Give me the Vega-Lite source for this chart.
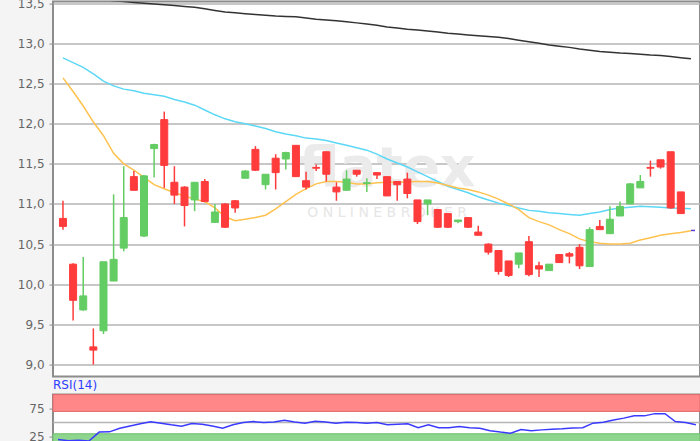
{
  "$schema": "https://vega.github.io/schema/vega-lite/v6.json",
  "background": "#f4f4f4",
  "padding": {"left": 0, "top": -4.4, "right": 0, "bottom": 0},
  "spacing": 0,
  "config": {
    "view": {"stroke": "#8c8c8c", "strokeWidth": 2, "fill": "#ffffff"},
    "axis": {"labelFont": "DejaVu Sans", "labelFontSize": 12, "labelColor": "#666666", "tickColor": "#8c8c8c", "tickSize": 4, "labelPadding": 5, "domain": false, "gridColor": "#b4b4b4", "gridWidth": 1.5, "minExtent": 52, "maxExtent": 52}
  },
  "datasets": {
    "candles": [
      {"i":0,"o":10.82,"h":11.04,"l":10.68,"c":10.72},
      {"i":1,"o":10.25,"h":10.26,"l":9.55,"c":9.80},
      {"i":2,"o":9.68,"h":10.34,"l":9.67,"c":9.855},
      {"i":3,"o":9.22,"h":9.45,"l":9.00,"c":9.18},
      {"i":4,"o":9.42,"h":10.28,"l":9.38,"c":10.28},
      {"i":5,"o":10.04,"h":11.12,"l":10.04,"c":10.31},
      {"i":6,"o":10.45,"h":11.47,"l":10.41,"c":10.83},
      {"i":7,"o":11.34,"h":11.41,"l":11.17,"c":11.17},
      {"i":8,"o":10.60,"h":11.36,"l":10.59,"c":11.35},
      {"i":9,"o":11.69,"h":11.75,"l":11.33,"c":11.74},
      {"i":10,"o":12.05,"h":12.15,"l":11.20,"c":11.48},
      {"i":11,"o":11.27,"h":11.47,"l":11.00,"c":11.11},
      {"i":12,"o":11.21,"h":11.22,"l":10.72,"c":10.98},
      {"i":13,"o":11.05,"h":11.27,"l":10.91,"c":11.27},
      {"i":14,"o":11.28,"h":11.31,"l":11.02,"c":11.03},
      {"i":15,"o":10.77,"h":11.00,"l":10.77,"c":10.90},
      {"i":16,"o":11.00,"h":11.01,"l":10.70,"c":10.71},
      {"i":17,"o":11.04,"h":11.05,"l":10.89,"c":10.95},
      {"i":18,"o":11.32,"h":11.42,"l":11.32,"c":11.41},
      {"i":19,"o":11.68,"h":11.72,"l":11.41,"c":11.42},
      {"i":20,"o":11.24,"h":11.37,"l":11.18,"c":11.37},
      {"i":21,"o":11.57,"h":11.62,"l":11.18,"c":11.39},
      {"i":22,"o":11.56,"h":11.65,"l":11.43,"c":11.64},
      {"i":23,"o":11.73,"h":11.73,"l":11.34,"c":11.34},
      {"i":24,"o":11.29,"h":11.40,"l":11.18,"c":11.21},
      {"i":25,"o":11.455,"h":11.49,"l":11.41,"c":11.445},
      {"i":26,"o":11.65,"h":11.65,"l":11.28,"c":11.37},
      {"i":27,"o":11.21,"h":11.27,"l":11.04,"c":11.15},
      {"i":28,"o":11.17,"h":11.42,"l":11.17,"c":11.31},
      {"i":29,"o":11.42,"h":11.42,"l":11.34,"c":11.37},
      {"i":30,"o":11.255,"h":11.32,"l":11.15,"c":11.265},
      {"i":31,"o":11.39,"h":11.39,"l":11.31,"c":11.36},
      {"i":32,"o":11.34,"h":11.34,"l":11.10,"c":11.10},
      {"i":33,"o":11.28,"h":11.28,"l":11.04,"c":11.24},
      {"i":34,"o":11.31,"h":11.39,"l":11.07,"c":11.13},
      {"i":35,"o":11.05,"h":11.05,"l":10.75,"c":10.78},
      {"i":36,"o":11.00,"h":11.05,"l":10.86,"c":11.05},
      {"i":37,"o":10.93,"h":10.93,"l":10.70,"c":10.71},
      {"i":38,"o":10.88,"h":10.88,"l":10.70,"c":10.71},
      {"i":39,"o":10.78,"h":10.80,"l":10.76,"c":10.80},
      {"i":40,"o":10.83,"h":10.83,"l":10.70,"c":10.71},
      {"i":41,"o":10.65,"h":10.73,"l":10.61,"c":10.61},
      {"i":42,"o":10.50,"h":10.51,"l":10.37,"c":10.40},
      {"i":43,"o":10.42,"h":10.42,"l":10.12,"c":10.16},
      {"i":44,"o":10.29,"h":10.29,"l":10.09,"c":10.11},
      {"i":45,"o":10.25,"h":10.39,"l":10.20,"c":10.39},
      {"i":46,"o":10.53,"h":10.60,"l":10.10,"c":10.12},
      {"i":47,"o":10.23,"h":10.28,"l":10.09,"c":10.19},
      {"i":48,"o":10.17,"h":10.25,"l":10.17,"c":10.25},
      {"i":49,"o":10.37,"h":10.37,"l":10.27,"c":10.27},
      {"i":50,"o":10.38,"h":10.40,"l":10.26,"c":10.35},
      {"i":51,"o":10.46,"h":10.50,"l":10.19,"c":10.23},
      {"i":52,"o":10.22,"h":10.71,"l":10.22,"c":10.68},
      {"i":53,"o":10.72,"h":10.80,"l":10.68,"c":10.68},
      {"i":54,"o":10.63,"h":10.97,"l":10.63,"c":10.81},
      {"i":55,"o":10.85,"h":11.03,"l":10.85,"c":10.97},
      {"i":56,"o":11.00,"h":11.26,"l":11.00,"c":11.25},
      {"i":57,"o":11.20,"h":11.36,"l":11.20,"c":11.28},
      {"i":58,"o":11.455,"h":11.54,"l":11.34,"c":11.445},
      {"i":59,"o":11.55,"h":11.55,"l":11.44,"c":11.46},
      {"i":60,"o":11.65,"h":11.65,"l":10.94,"c":10.95},
      {"i":61,"o":11.15,"h":11.15,"l":10.88,"c":10.88}
    ],
    "ma": [
      {"i":0,"a":12.57,"b":12.82,"k":13.60},
      {"i":1,"a":12.40,"b":12.76,"k":13.59},
      {"i":2,"a":12.22,"b":12.70,"k":13.57},
      {"i":3,"a":12.02,"b":12.62,"k":13.56},
      {"i":4,"a":11.85,"b":12.53,"k":13.55},
      {"i":5,"a":11.63,"b":12.47,"k":13.53},
      {"i":6,"a":11.50,"b":12.43,"k":13.52},
      {"i":7,"a":11.42,"b":12.41,"k":13.51},
      {"i":8,"a":11.33,"b":12.38,"k":13.50},
      {"i":9,"a":11.24,"b":12.36,"k":13.49},
      {"i":10,"a":11.19,"b":12.34,"k":13.48},
      {"i":11,"a":11.14,"b":12.30,"k":13.47},
      {"i":12,"a":11.10,"b":12.27,"k":13.46},
      {"i":13,"a":11.06,"b":12.23,"k":13.45},
      {"i":14,"a":11.03,"b":12.17,"k":13.43},
      {"i":15,"a":10.95,"b":12.11,"k":13.41},
      {"i":16,"a":10.84,"b":12.06,"k":13.39},
      {"i":17,"a":10.79,"b":12.025,"k":13.38},
      {"i":18,"a":10.81,"b":12.00,"k":13.37},
      {"i":19,"a":10.83,"b":11.97,"k":13.36},
      {"i":20,"a":10.86,"b":11.94,"k":13.35},
      {"i":21,"a":10.94,"b":11.90,"k":13.34},
      {"i":22,"a":11.03,"b":11.87,"k":13.335},
      {"i":23,"a":11.12,"b":11.85,"k":13.33},
      {"i":24,"a":11.19,"b":11.82,"k":13.315},
      {"i":25,"a":11.25,"b":11.81,"k":13.30},
      {"i":26,"a":11.28,"b":11.79,"k":13.29},
      {"i":27,"a":11.28,"b":11.76,"k":13.28},
      {"i":28,"a":11.27,"b":11.73,"k":13.27},
      {"i":29,"a":11.25,"b":11.70,"k":13.255},
      {"i":30,"a":11.25,"b":11.67,"k":13.24},
      {"i":31,"a":11.265,"b":11.62,"k":13.225},
      {"i":32,"a":11.27,"b":11.56,"k":13.205},
      {"i":33,"a":11.27,"b":11.51,"k":13.19},
      {"i":34,"a":11.275,"b":11.46,"k":13.175},
      {"i":35,"a":11.28,"b":11.40,"k":13.165},
      {"i":36,"a":11.28,"b":11.34,"k":13.155},
      {"i":37,"a":11.26,"b":11.28,"k":13.14},
      {"i":38,"a":11.23,"b":11.22,"k":13.125},
      {"i":39,"a":11.20,"b":11.18,"k":13.115},
      {"i":40,"a":11.18,"b":11.14,"k":13.105},
      {"i":41,"a":11.15,"b":11.09,"k":13.095},
      {"i":42,"a":11.11,"b":11.05,"k":13.085},
      {"i":43,"a":11.06,"b":11.01,"k":13.075},
      {"i":44,"a":11.00,"b":10.98,"k":13.06},
      {"i":45,"a":10.93,"b":10.95,"k":13.04},
      {"i":46,"a":10.83,"b":10.92,"k":13.02},
      {"i":47,"a":10.78,"b":10.91,"k":13.00},
      {"i":48,"a":10.74,"b":10.89,"k":12.98},
      {"i":49,"a":10.68,"b":10.88,"k":12.965},
      {"i":50,"a":10.63,"b":10.87,"k":12.95},
      {"i":51,"a":10.565,"b":10.86,"k":12.93},
      {"i":52,"a":10.53,"b":10.88,"k":12.915},
      {"i":53,"a":10.51,"b":10.90,"k":12.90},
      {"i":54,"a":10.50,"b":10.93,"k":12.89},
      {"i":55,"a":10.50,"b":10.95,"k":12.88},
      {"i":56,"a":10.51,"b":10.96,"k":12.875},
      {"i":57,"a":10.55,"b":10.97,"k":12.865},
      {"i":58,"a":10.58,"b":10.965,"k":12.855},
      {"i":59,"a":10.61,"b":10.96,"k":12.848},
      {"i":60,"a":10.63,"b":10.95,"k":12.835},
      {"i":61,"a":10.645,"b":10.945,"k":12.82},
      {"i":62,"a":10.665,"b":10.94,"k":12.807}
    ],
    "rsi": [
      {"i":0,"r":20},{"i":1,"r":17.5},{"i":2,"r":18.5},{"i":3,"r":17},{"i":4,"r":33},
      {"i":5,"r":33.5},{"i":6,"r":40},{"i":7,"r":44},{"i":8,"r":48},{"i":9,"r":51.5},
      {"i":10,"r":49},{"i":11,"r":46},{"i":12,"r":43.5},{"i":13,"r":48.5},{"i":14,"r":47},
      {"i":15,"r":44},{"i":16,"r":40},{"i":17,"r":46},{"i":18,"r":50},{"i":19,"r":51.8},
      {"i":20,"r":50},{"i":21,"r":51},{"i":22,"r":54.3},{"i":23,"r":51},{"i":24,"r":49},
      {"i":25,"r":52.5},{"i":26,"r":51},{"i":27,"r":49},{"i":28,"r":50.5},{"i":29,"r":50},
      {"i":30,"r":49},{"i":31,"r":50},{"i":32,"r":46},{"i":33,"r":47},{"i":34,"r":48},
      {"i":35,"r":41},{"i":36,"r":46},{"i":37,"r":41},{"i":38,"r":41},{"i":39,"r":43},
      {"i":40,"r":41},{"i":41,"r":40},{"i":42,"r":35.5},{"i":43,"r":33},{"i":44,"r":31},
      {"i":45,"r":37.5},{"i":46,"r":35.5},{"i":47,"r":37},{"i":48,"r":38},{"i":49,"r":39},
      {"i":50,"r":40.5},{"i":51,"r":41},{"i":52,"r":49},{"i":53,"r":50.5},{"i":54,"r":54.5},
      {"i":55,"r":58},{"i":56,"r":62},{"i":57,"r":62},{"i":58,"r":66},{"i":59,"r":66},
      {"i":60,"r":52},{"i":61,"r":50},{"i":62,"r":46}
    ],
    "bands": [
      {"lo":70,"hi":100,"zone":"over"},
      {"lo":0,"hi":30,"zone":"under"}
    ]
  },
  "vconcat": [
    {
      "width": 647,
      "height": 375,
      "layer": [
        {
          "data": {"values": [{"t": "flatex", "wx": 32, "wy": 11.22}]},
          "mark": {"type": "text", "font": "DejaVu Sans", "fontWeight": "bold", "fontSize": 55, "color": "#ebebeb", "baseline": "alphabetic", "align": "center"},
          "encoding": {
            "x": {"field": "wx", "type": "quantitative", "scale": {"domain": [-0.49, 62.4], "nice": false, "zero": false}, "axis": null},
            "y": {"field": "wy", "type": "quantitative", "scale": {"domain": [8.85, 13.52], "nice": false, "zero": false}, "title": null, "axis": {"values": [9, 9.5, 10, 10.5, 11, 11.5, 12, 12.5, 13, 13.5], "format": ".1f", "labelExpr": "replace(datum.label, '.', ',')", "grid": true}},
            "text": {"field": "t"}
          }
        },
        {
          "data": {"values": [{"t": "O N L I N E   B R O K E R", "wx": 32, "wy": 10.89}]},
          "mark": {"type": "text", "font": "DejaVu Sans", "fontSize": 14, "color": "#e6e6e6", "baseline": "middle", "align": "center"},
          "encoding": {
            "x": {"field": "wx", "type": "quantitative", "axis": null},
            "y": {"field": "wy", "type": "quantitative", "title": null},
            "text": {"field": "t"}
          }
        },
        {
          "data": {"name": "ma"},
          "mark": {"type": "line", "color": "#333333", "strokeWidth": 1.5, "clip": true},
          "encoding": {
            "x": {"field": "i", "type": "quantitative", "axis": null},
            "y": {"field": "k", "type": "quantitative", "title": null}
          }
        },
        {
          "data": {"name": "ma"},
          "mark": {"type": "line", "color": "#5cd8f6", "strokeWidth": 1.5, "clip": true},
          "encoding": {
            "x": {"field": "i", "type": "quantitative", "axis": null},
            "y": {"field": "b", "type": "quantitative", "title": null}
          }
        },
        {
          "data": {"name": "ma"},
          "mark": {"type": "line", "color": "#ffc24f", "strokeWidth": 1.5, "clip": true},
          "encoding": {
            "x": {"field": "i", "type": "quantitative", "axis": null},
            "y": {"field": "a", "type": "quantitative", "title": null}
          }
        },
        {
          "data": {"name": "candles"},
          "mark": {"type": "rule", "strokeWidth": 1.5},
          "encoding": {
            "x": {"field": "i", "type": "quantitative", "axis": null},
            "y": {"field": "l", "type": "quantitative", "title": null},
            "y2": {"field": "h"},
            "color": {"condition": {"test": "datum.c < datum.o", "value": "#ff3b3b"}, "value": "#63cc63"}
          }
        },
        {
          "data": {"name": "candles"},
          "mark": {"type": "bar", "size": 7, "strokeWidth": 1},
          "encoding": {
            "x": {"field": "i", "type": "quantitative", "axis": null},
            "y": {"field": "o", "type": "quantitative", "title": null},
            "y2": {"field": "c"},
            "fill": {"condition": {"test": "datum.c < datum.o", "value": "#ff3b3b"}, "value": "#63cc63"},
            "stroke": {"condition": {"test": "datum.c < datum.o", "value": "#ff3b3b"}, "value": "#63cc63"}
          }
        },
        {
          "data": {"values": [{"p": 10.67, "x1": 62.0, "x2": 62.4}]},
          "mark": {"type": "rule", "color": "#5b3fd6", "strokeWidth": 1.5},
          "encoding": {
            "x": {"field": "x1", "type": "quantitative", "axis": null},
            "x2": {"field": "x2"},
            "y": {"field": "p", "type": "quantitative", "title": null}
          }
        }
      ]
    },
    {
      "width": 647,
      "height": 56,
      "title": {"text": "RSI(14)", "anchor": "start", "frame": "group", "color": "#2f3cff", "font": "DejaVu Sans", "fontSize": 12, "fontWeight": "normal", "offset": 2},
      "layer": [
        {
          "data": {"name": "bands"},
          "mark": {"type": "rect", "strokeWidth": 1},
          "encoding": {
            "y": {"field": "lo", "type": "quantitative", "scale": {"domain": [0, 100], "nice": false}, "title": null, "axis": {"values": [25, 75], "format": "d", "grid": false}},
            "y2": {"field": "hi"},
            "fill": {"field": "zone", "type": "nominal", "scale": {"domain": ["over", "under"], "range": ["#ff8787", "#8ed58e"]}, "legend": null},
            "stroke": {"field": "zone", "type": "nominal", "scale": {"domain": ["over", "under"], "range": ["#e06a6a", "#6bbf6b"]}, "legend": null}
          }
        },
        {
          "data": {"values": [{"m": 50}]},
          "mark": {"type": "rule", "color": "#b4b4b4", "strokeWidth": 1.5},
          "encoding": {
            "y": {"field": "m", "type": "quantitative", "title": null}
          }
        },
        {
          "data": {"name": "rsi"},
          "mark": {"type": "line", "color": "#3a3aff", "strokeWidth": 1.5},
          "encoding": {
            "x": {"field": "i", "type": "quantitative", "scale": {"domain": [-0.49, 62.4], "nice": false, "zero": false}, "axis": null},
            "y": {"field": "r", "type": "quantitative", "title": null}
          }
        }
      ]
    }
  ]
}
